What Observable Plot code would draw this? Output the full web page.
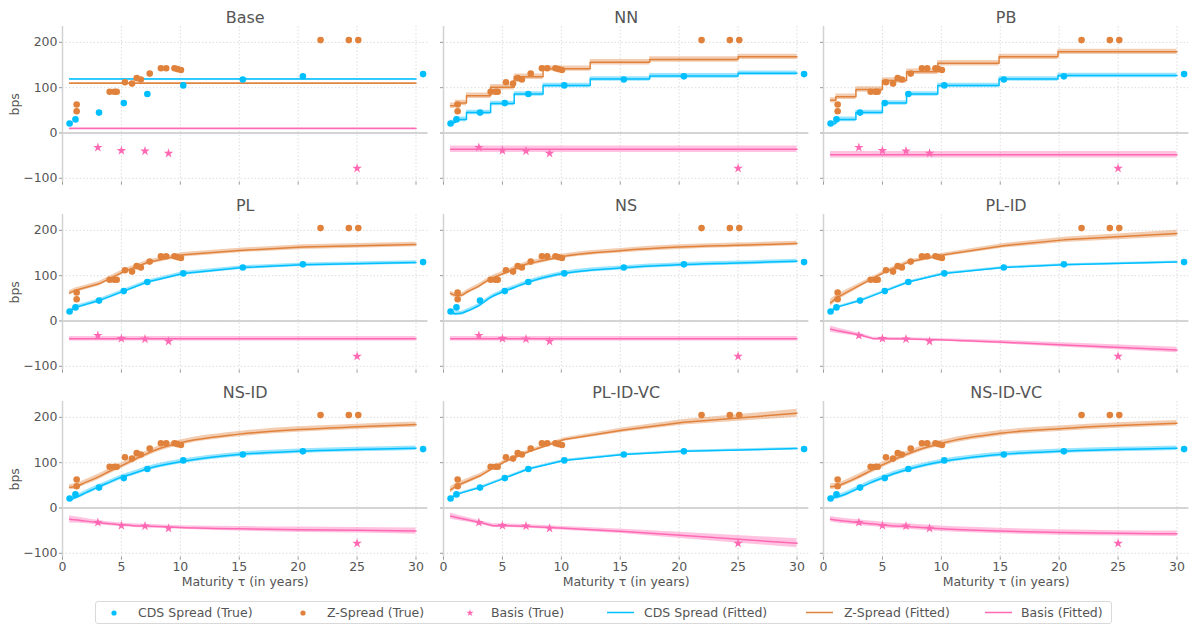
<!DOCTYPE html>
<html>
<head>
<meta charset="utf-8">
<script src="https://cdn.jsdelivr.net/npm/d3@7"></script>
<script src="https://cdn.jsdelivr.net/npm/@observablehq/plot@0.6"></script>
<style>
body{margin:0;background:#fff;font-family:"DejaVu Sans",sans-serif;}
#wrap{position:relative;width:1194px;height:628px;overflow:hidden;background:#fff;}
.panel{position:absolute;}
#legend{position:absolute;left:95px;top:601px;width:1017px;height:23px;border:1px solid #d9d9d9;border-radius:3px;box-sizing:border-box;}
.li{position:absolute;top:0;height:21px;line-height:21px;font-size:12.5px;color:#555;white-space:nowrap;}
.ls{position:absolute;top:0;}
</style>
</head>
<body>
<div id="wrap"><div id="legend"></div></div>
<script>
// ---------- Observed data ----------
const cdsT = [0.6, 1.1, 3.1, 5.2, 7.2, 10.25, 15.3, 20.4, 30.6];
const cdsV = [21, 30, 45, 66, 86, 105, 118, 125, 130];
const zT = [1.2, 1.2, 4.0, 4.4, 4.6, 5.3, 5.9, 6.3, 6.65, 7.4, 8.35, 8.8, 9.5, 9.75, 10.05, 21.9, 24.3, 25.1];
const zV = [63, 48, 91, 91, 91, 112, 109, 121, 118, 131, 143, 143, 143, 141, 139, 205, 205, 205];
const basisT = [3, 5, 7, 9, 25];
const basisV = [-32, -39, -40, -45, -78];

// ---------- Fitted curves ----------
// Base
const baseT = [0.6, 30];
const baseCds = [119, 119];
const baseZ = [110, 110];
const baseBasis = [10, 10];
// NN (step)
const nnT = [0.6, 1.0, 1.95, 4.0, 6.0, 8.45, 12.45, 17.5, 25, 30];
const nnCds = [23, 30, 45, 65, 86, 105, 119, 126, 132, 132];
const nnZ = [60, 66, 82, 101, 124, 142, 156, 162, 168, 168];
const nnBasisT = [0.6, 30];
const nnBasis = [-36, -36];
// PB (step)
const pbT = [0.6, 1.05, 2.75, 5.0, 7.05, 9.7, 14.9, 19.9, 30];
const pbCds = [21, 30, 45, 66, 86, 105, 119, 127, 127];
const pbZ = [72, 80, 96, 116, 135, 154, 168, 179, 179];
const pbBasis = [-48, -48];
// PL
const plT = [0.6, 1.1, 3.1, 5.2, 7.2, 10.25, 15.3, 20.4, 30];
const plCds = [21, 30, 45, 66, 86, 105, 118, 124, 129];
const plZ = [62, 68, 82, 109, 129, 146, 156, 163, 169];
const plBasis = [-39, -39];
// NS
const nsT = [0.6, 1, 1.5, 2, 3, 4, 5, 6, 7, 8, 10, 15, 20, 25, 30];
const nsCds = [20, 16, 17, 22, 34, 52, 64, 74, 84, 92, 104, 117, 124, 128, 132];
const nsZ = [61, 57, 57, 64, 77, 93, 104, 115, 125, 131, 142, 155, 163, 167, 171];
const nsBasis = [-39, -39];
// PL-ID
const plidT = [0.6, 1.1, 3.1, 4.2, 5.2, 7.2, 10.25, 15.3, 20.4, 30];
const plidCds = [21, 30, 45, 56, 66, 86, 105, 118, 124, 130];
const plidZ = [40, 51, 79, 94, 108, 130, 146, 166, 179, 193];
const plidBasis = [-18, -21, -31, -39, -39, -40, -42, -47, -53, -64];
const plidZBand = [8, 7, 5, 4, 4, 4, 4, 5, 6, 7];
const plidBasisBand = [7, 6, 4, 3, 3, 3, 3, 4, 5, 6];
// NS-ID
const idT = [0.6, 1, 2, 3, 4, 5, 6, 7, 8, 10, 15, 20, 25, 30];
const nsidCds = [19, 22, 34, 46, 57, 68, 76, 85, 92, 102, 118, 125, 129, 132];
const nsidZ = [46, 47, 57, 68, 81, 93, 106, 118, 129, 144, 163, 173, 179, 184];
const nsidBasis = [-25, -26, -29, -32, -35, -37, -39, -40, -41, -43, -46, -48, -49, -51];
const nsidBasisBand = [8, 7, 6, 5, 4, 4, 4, 4, 4, 4, 5, 6, 6, 7];
// PL-ID-VC
const plvcT = [0.6, 1.1, 3.1, 4.2, 5.2, 7.2, 10.25, 15.3, 20.4, 30];
const plvcCds = [21, 30, 45, 56, 66, 86, 105, 118, 125, 131];
const plvcZ = [40, 49, 71, 88, 102, 124, 151, 172, 189, 209];
const plvcBasis = [-18, -21, -32, -39, -39, -41, -45, -52, -61, -78];
const plvcZBand = [7, 6, 5, 4, 4, 4, 4, 5, 6, 9];
const plvcBasisBand = [7, 6, 4, 4, 4, 4, 4, 5, 7, 10];
// NS-ID-VC
const nsvcCds = [22, 23.5, 32, 44, 56, 66, 76, 84, 91, 102, 118, 125, 129, 132];
const nsvcZ = [47, 48, 57, 69, 82, 95, 107, 118, 128, 143, 165, 175, 182, 187];
const nsvcBasis = [-25, -26.5, -29.5, -32, -35, -37.5, -39.5, -41, -42.5, -46, -51, -54, -56, -57];

// ---------- Axis ticks & labels ----------
const titles = ["Base", "NN", "PB", "PL", "NS", "PL-ID", "NS-ID", "PL-ID-VC", "NS-ID-VC"];
const xTicks = [0, 5, 10, 15, 20, 25, 30];
const yTicks = [-100, 0, 100, 200];
const xLabel = "Maturity τ (in years)";
const yLabel = "bps";
const legendLabels = ["CDS Spread (True)", "Z-Spread (True)", "Basis (True)", "CDS Spread (Fitted)", "Z-Spread (Fitted)", "Basis (Fitted)"];

// ---------- Styles ----------
const blue = "#00BFFF", orange = "#E0823C", pink = "#FF69B4", textC = "#555";

function rows(t, v, band) {
  return t.map((ti, i) => {
    const b = Array.isArray(band) ? band[i] : band;
    return {t: ti, v: v[i], lo: v[i] - b, hi: v[i] + b};
  });
}
const pts = (t, v) => t.map((ti, i) => ({t: ti, v: v[i]}));

const panels = [
  {curve: "linear", s: [[baseT, baseCds, 1.5], [baseT, baseZ, 1.5], [baseT, baseBasis, 1.5]]},
  {curve: "step-after", s: [[nnT, nnCds, 5], [nnT, nnZ, 6], [nnBasisT, nnBasis, 7]]},
  {curve: "step-after", s: [[pbT, pbCds, 5], [pbT, pbZ, 6], [nnBasisT, pbBasis, 7]]},
  {curve: "linear", s: [[plT, plCds, 4], [plT, plZ, 5], [nnBasisT, plBasis, 5]]},
  {curve: "monotone-x", s: [[nsT, nsCds, 4.5], [nsT, nsZ, 5], [nnBasisT, nsBasis, 5]]},
  {curve: "linear", s: [[plidT, plidCds, 2.5], [plidT, plidZ, plidZBand], [plidT, plidBasis, plidBasisBand]]},
  {curve: "monotone-x", s: [[idT, nsidCds, 5], [idT, nsidZ, 6], [idT, nsidBasis, nsidBasisBand]]},
  {curve: "linear", s: [[plvcT, plvcCds, 2.5], [plvcT, plvcZ, plvcZBand], [plvcT, plvcBasis, plvcBasisBand]]},
  {curve: "monotone-x", s: [[idT, nsvcCds, 5], [idT, nsvcZ, 6], [idT, nsvcBasis, 6]]}
];
const colors = [blue, orange, pink];

const colX = [61.7, 442.7, 823.3], rowY = [26, 214, 400.7];
const PW = 365.3, PH = 155.7, mL = 55, mR = 5, mT = 30, mB = 40;
const wrap = document.getElementById("wrap");
const cds = pts(cdsT, cdsV), zs = pts(zT, zV), bas = pts(basisT, basisV);

panels.forEach((p, k) => {
  const row = Math.floor(k / 3), col = k % 3;
  const series = p.s.map(([t, v, b]) => rows(t, v, b));
  const marks = [
    Plot.gridX(xTicks, {stroke: "#d4d4d4", strokeOpacity: 1, strokeDasharray: "1.5,2", strokeWidth: 0.8}),
    Plot.gridY(yTicks, {stroke: "#d4d4d4", strokeOpacity: 1, strokeDasharray: "1.5,2", strokeWidth: 0.8}),
    Plot.ruleY([0], {stroke: "#c8c8c8", strokeWidth: 1.5}),
    Plot.ruleX([0], {stroke: "#d2d2d2", strokeWidth: 1.5}),
    Plot.axisX(xTicks, {tickSize: 3, tickPadding: 2, stroke: "#999", fill: textC, fontSize: 12.5,
      tickFormat: row === 2 ? (d => String(d)) : (() => ""), label: null}),
    Plot.axisY(yTicks, {tickSize: 3, tickPadding: 2, stroke: "#999", fill: textC, fontSize: 12.5,
      tickFormat: col === 0 ? (d => d < 0 ? "\u2212" + Math.abs(d) : String(d)) : (() => ""), label: null}),
    Plot.text([titles[k]], {frameAnchor: "top", lineAnchor: "middle", dy: -9, fontSize: 16, fill: textC})
  ];
  series.forEach((d, i) => marks.push(Plot.areaY(d, {x: "t", y1: "lo", y2: "hi", fill: colors[i], fillOpacity: 0.4, curve: p.curve})));
  series.forEach((d, i) => marks.push(Plot.line(d, {x: "t", y: "v", stroke: colors[i], strokeWidth: 1.5, curve: p.curve})));
  marks.push(Plot.dot(cds, {x: "t", y: "v", r: 3.3, fill: blue}));
  marks.push(Plot.dot(zs, {x: "t", y: "v", r: 3.3, fill: orange}));
  marks.push(Plot.dot(bas, {x: "t", y: "v", r: 3, symbol: "star", fill: pink}));
  if (row === 2) marks.push(Plot.text([xLabel], {frameAnchor: "bottom", lineAnchor: "middle", dy: 25, fontSize: 12.5, fill: textC}));
  if (col === 0) marks.push(Plot.text([yLabel], {frameAnchor: "left", textAnchor: "middle", lineAnchor: "middle", rotate: -90, dx: -48, fontSize: 12.5, fill: textC}));

  const svg = Plot.plot({
    width: mL + PW + mR, height: mT + PH + mB,
    marginLeft: mL, marginRight: mR, marginTop: mT, marginBottom: mB,
    x: {domain: [0, 31]},
    y: {domain: [-108.6, 235]},
    style: {background: "transparent", overflow: "visible", fontFamily: "DejaVu Sans", color: textC},
    marks
  });
  svg.classList.add("panel");
  svg.style.position = "absolute";
  svg.style.left = (colX[col] - mL) + "px";
  svg.style.top = (rowY[row] - mT) + "px";
  wrap.appendChild(svg);
});

// ---------- Legend ----------
const legend = document.getElementById("legend");
const legendSym = ["dot", "dot", "star", "line", "line", "line"];
const legendCol = [blue, orange, pink, blue, orange, pink];
const symX = [18, 207, 374, 511, 710, 889];
const textX = [42, 231, 395, 548, 748, 925];
legendLabels.forEach((lab, i) => {
  const s = document.createElementNS("http://www.w3.org/2000/svg", "svg");
  const w = legendSym[i] === "line" ? 27 : 10;
  s.setAttribute("width", w); s.setAttribute("height", 21);
  s.setAttribute("class", "ls");
  s.style.left = (symX[i] - (legendSym[i] === "line" ? 0 : 5)) + "px";
  if (legendSym[i] === "dot") {
    s.innerHTML = `<circle cx="5" cy="11" r="2.6" fill="${legendCol[i]}"/>`;
  } else if (legendSym[i] === "star") {
    s.innerHTML = `<path transform="translate(5,11)" d="${d3.symbol(d3.symbolStar, 16)()}" fill="${legendCol[i]}"/>`;
  } else {
    s.innerHTML = `<line x1="0" x2="27" y1="10.5" y2="10.5" stroke="${legendCol[i]}" stroke-width="1.5"/>`;
  }
  legend.appendChild(s);
  const t = document.createElement("div");
  t.className = "li"; t.style.left = textX[i] + "px"; t.textContent = lab;
  legend.appendChild(t);
});
</script>
</body>
</html>
